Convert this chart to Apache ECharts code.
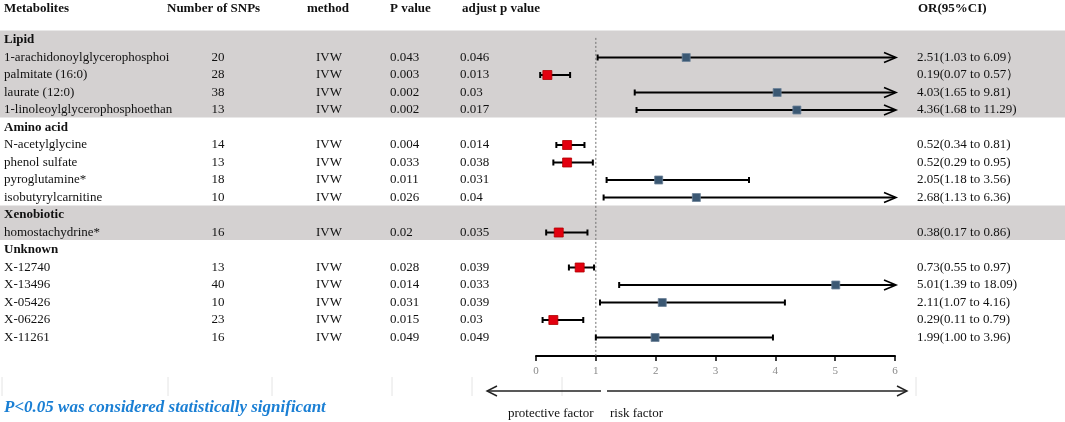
<!DOCTYPE html>
<html>
<head>
<meta charset="utf-8">
<title>Forest plot</title>
<script src="https://cdn.jsdelivr.net/npm/echarts@6/dist/echarts.min.js"></script>
<style>
  html, body { margin: 0; padding: 0; background: #fff; }
  #chart { width: 1065px; height: 422px; }
</style>
</head>
<body>
<div id="chart"></div>
<script>
// ---- data ----
const groups = ["Lipid", "Amino acid", "Xenobiotic", "Unknown"];
const groupSizes = [4, 4, 1, 5];
const shadedGroups = ["Lipid", "Xenobiotic"];

const metabolites = [
  "1-arachidonoylglycerophosphoi",
  "palmitate (16:0)",
  "laurate (12:0)",
  "1-linoleoylglycerophosphoethan",
  "N-acetylglycine",
  "phenol sulfate",
  "pyroglutamine*",
  "isobutyrylcarnitine",
  "homostachydrine*",
  "X-12740",
  "X-13496",
  "X-05426",
  "X-06226",
  "X-11261"
];
const snps = [20, 28, 38, 13, 14, 13, 18, 10, 16, 13, 40, 10, 23, 16];
const methods = ["IVW", "IVW", "IVW", "IVW", "IVW", "IVW", "IVW", "IVW", "IVW", "IVW", "IVW", "IVW", "IVW", "IVW"];
const pValues = ["0.043", "0.003", "0.002", "0.002", "0.004", "0.033", "0.011", "0.026", "0.02", "0.028", "0.014", "0.031", "0.015", "0.049"];
const adjustP = ["0.046", "0.013", "0.03", "0.017", "0.014", "0.038", "0.031", "0.04", "0.035", "0.039", "0.033", "0.039", "0.03", "0.049"];
const orValues = [2.51, 0.19, 4.03, 4.36, 0.52, 0.52, 2.05, 2.68, 0.38, 0.73, 5.01, 2.11, 0.29, 1.99];
const ciLower = [1.03, 0.07, 1.65, 1.68, 0.34, 0.29, 1.18, 1.13, 0.17, 0.55, 1.39, 1.07, 0.11, 1.00];
const ciUpper = [6.09, 0.57, 9.81, 11.29, 0.81, 0.95, 3.56, 6.36, 0.86, 0.97, 18.09, 4.16, 0.79, 3.96];
const orLabels = [
  "2.51(1.03 to 6.09）",
  "0.19(0.07 to 0.57）",
  "4.03(1.65 to 9.81)",
  "4.36(1.68 to 11.29)",
  "0.52(0.34 to 0.81)",
  "0.52(0.29 to 0.95)",
  "2.05(1.18 to 3.56)",
  "2.68(1.13 to 6.36)",
  "0.38(0.17 to 0.86)",
  "0.73(0.55 to 0.97)",
  "5.01(1.39 to 18.09)",
  "2.11(1.07 to 4.16)",
  "0.29(0.11 to 0.79)",
  "1.99(1.00 to 3.96)"
];
const headers = ["Metabolites", "Number of SNPs", "method", "P value", "adjust p value", "OR(95%CI)"];
const X_MIN = 0;
const X_MAX = 6;

// ---- layout ----
const FONT = "'Liberation Serif', 'Times New Roman', serif";
const PAGE_W = 1065;
const HEADER_SLOT = -1.78;
const Y_MIN = -2;
const Y_MAX = 18.057;
const GRID_TOP = 5;
const GRID_H = 351;
const HEADER_X = [4, 167, 307, 390, 462, 918];
const COL = { name: 4, snps: 218, method: 329, p: 390, adj: 460, or: 917 };

// rows: group title rows followed by their metabolites
const rows = [];
const bands = [];
let slot = 0;
let item = 0;
groups.forEach((group, g) => {
  const start = slot;
  rows.push({ kind: "group", slot: slot++, text: group });
  for (let k = 0; k < groupSizes[g]; k++) {
    rows.push({ kind: "item", slot: slot++, idx: item++ });
  }
  if (shadedGroups.includes(group)) bands.push([start, slot - 1]);
});
const itemSlots = rows.filter((r) => r.kind === "item").map((r) => r.slot);

function txt(x, y, text, opts = {}) {
  return {
    type: "text",
    style: {
      x,
      y,
      text,
      font: `${opts.weight || "normal"} ${opts.size || 13}px ${FONT}`,
      fill: opts.color || "#111",
      align: opts.align || "left",
      verticalAlign: "middle"
    }
  };
}

const chart = echarts.init(document.getElementById("chart"), null, { renderer: "canvas" });

chart.setOption({
  animation: false,
  grid: [
    { left: 0, width: PAGE_W, top: GRID_TOP, height: GRID_H },
    { left: 536, width: 359, top: GRID_TOP, height: GRID_H }
  ],
  xAxis: [
    { gridIndex: 0, type: "value", min: 0, max: PAGE_W, show: false },
    {
      gridIndex: 1,
      type: "value",
      min: X_MIN,
      max: X_MAX,
      interval: 1,
      position: "bottom",
      axisLine: { show: true, onZero: false, lineStyle: { color: "#000", width: 2 } },
      axisTick: { show: true, length: 5, lineStyle: { color: "#000", width: 1.5 } },
      axisLabel: { color: "#8a8a8a", fontFamily: FONT, fontSize: 11, margin: 10 },
      splitLine: { show: false }
    }
  ],
  yAxis: [
    { gridIndex: 0, type: "value", inverse: true, min: Y_MIN, max: Y_MAX, show: false },
    { gridIndex: 1, type: "value", inverse: true, min: Y_MIN, max: Y_MAX, show: false }
  ],
  series: [
    {
      // shaded group bands
      type: "custom",
      xAxisIndex: 0,
      yAxisIndex: 0,
      z: 1,
      silent: true,
      data: bands,
      renderItem: (params, api) => {
        const top = api.coord([0, api.value(0) - 0.55])[1];
        const bottom = api.coord([0, api.value(1) + 0.43])[1];
        return {
          type: "rect",
          shape: { x: 0, y: top, width: PAGE_W, height: bottom - top },
          style: { fill: "#d4d1d1" }
        };
      }
    },
    {
      // header row
      type: "custom",
      xAxisIndex: 0,
      yAxisIndex: 0,
      z: 3,
      silent: true,
      data: [[0, HEADER_SLOT]],
      renderItem: (params, api) => {
        const y = api.coord([0, HEADER_SLOT])[1];
        return {
          type: "group",
          children: headers.map((h, i) => txt(HEADER_X[i], y, h, { weight: "bold" }))
        };
      }
    },
    {
      // table text
      type: "custom",
      xAxisIndex: 0,
      yAxisIndex: 0,
      z: 3,
      silent: true,
      data: rows.map((r) => [0, r.slot]),
      renderItem: (params, api) => {
        const row = rows[params.dataIndex];
        const y = api.coord([0, row.slot])[1];
        if (row.kind === "group") {
          return { type: "group", children: [txt(COL.name, y, row.text, { weight: "bold" })] };
        }
        const i = row.idx;
        return {
          type: "group",
          children: [
            txt(COL.name, y, metabolites[i]),
            txt(COL.snps, y, String(snps[i]), { align: "center" }),
            txt(COL.method, y, methods[i], { align: "center" }),
            txt(COL.p, y, pValues[i]),
            txt(COL.adj, y, adjustP[i]),
            txt(COL.or, y, orLabels[i])
          ]
        };
      }
    },
    {
      // null line at OR = 1
      type: "custom",
      xAxisIndex: 1,
      yAxisIndex: 1,
      z: 2,
      silent: true,
      data: [[1]],
      renderItem: (params, api) => {
        const a = api.coord([api.value(0), -0.12]);
        const b = api.coord([api.value(0), Y_MAX]);
        return {
          type: "line",
          shape: { x1: a[0], y1: a[1], x2: b[0], y2: b[1] },
          style: { stroke: "#6f6f6f", lineWidth: 1, lineDash: [2, 2] }
        };
      }
    },
    {
      // confidence intervals and point estimates
      type: "custom",
      xAxisIndex: 1,
      yAxisIndex: 1,
      z: 4,
      silent: true,
      data: orValues.map((v, i) => [ciLower[i], Math.min(ciUpper[i], X_MAX), v, itemSlots[i], ciUpper[i] > X_MAX ? 1 : 0]),
      encode: { x: [0, 1, 2], y: 3 },
      renderItem: (params, api) => {
        const lo = api.coord([api.value(0), api.value(3)]);
        const hi = api.coord([api.value(1), api.value(3)]);
        const pt = api.coord([api.value(2), api.value(3)]);
        const clipped = api.value(4) === 1;
        const protective = api.value(2) < 1;
        const y = lo[1];
        const stroke = { stroke: "#000", lineWidth: 2 };
        const children = [
          { type: "line", shape: { x1: lo[0], y1: y, x2: hi[0], y2: y }, style: stroke },
          { type: "line", shape: { x1: lo[0], y1: y - 3, x2: lo[0], y2: y + 3 }, style: stroke }
        ];
        if (clipped) {
          children.push({
            type: "polyline",
            shape: { points: [[hi[0] - 11, y - 5], [hi[0] + 1, y], [hi[0] - 11, y + 5]] },
            style: { stroke: "#000", lineWidth: 1.6, fill: null }
          });
        } else {
          children.push({ type: "line", shape: { x1: hi[0], y1: y - 3, x2: hi[0], y2: y + 3 }, style: stroke });
        }
        const s = protective ? 9 : 8;
        children.push({
          type: "rect",
          shape: { x: pt[0] - s / 2, y: y - s / 2, width: s, height: s },
          style: protective
            ? { fill: "#e3000f", stroke: "#b00000", lineWidth: 0.8 }
            : { fill: "#3b5873", stroke: "#6d8399", lineWidth: 0.8 }
        });
        return { type: "group", children };
      }
    }
  ],
  graphic: [
    // faint table borders under the axis
    ...[2, 168, 272, 392, 472, 562, 916].map((x) => ({
      type: "line",
      silent: true,
      shape: { x1: x, y1: 377, x2: x, y2: 396 },
      style: { stroke: "#e4e4e4", lineWidth: 1 }
    })),
    {
      type: "line",
      silent: true,
      shape: { x1: 488, y1: 391, x2: 601, y2: 391 },
      style: { stroke: "#222", lineWidth: 1.4 }
    },
    {
      type: "polyline",
      silent: true,
      shape: { points: [[497, 386], [487, 391], [497, 396]] },
      style: { stroke: "#222", lineWidth: 1.4, fill: null }
    },
    {
      type: "line",
      silent: true,
      shape: { x1: 607, y1: 391, x2: 906, y2: 391 },
      style: { stroke: "#222", lineWidth: 1.4 }
    },
    {
      type: "polyline",
      silent: true,
      shape: { points: [[897, 386], [907, 391], [897, 396]] },
      style: { stroke: "#222", lineWidth: 1.4, fill: null }
    },
    {
      type: "text",
      silent: true,
      x: 508,
      y: 414,
      style: { text: "protective factor", font: `13px ${FONT}`, fill: "#111", verticalAlign: "middle" }
    },
    {
      type: "text",
      silent: true,
      x: 610,
      y: 414,
      style: { text: "risk factor", font: `13px ${FONT}`, fill: "#111", verticalAlign: "middle" }
    },
    {
      type: "text",
      silent: true,
      x: 4,
      y: 408,
      style: {
        text: "P<0.05 was considered statistically significant",
        font: `italic bold 17px ${FONT}`,
        fill: "#1a7fd4",
        verticalAlign: "middle"
      }
    }
  ]
});
</script>
</body>
</html>
